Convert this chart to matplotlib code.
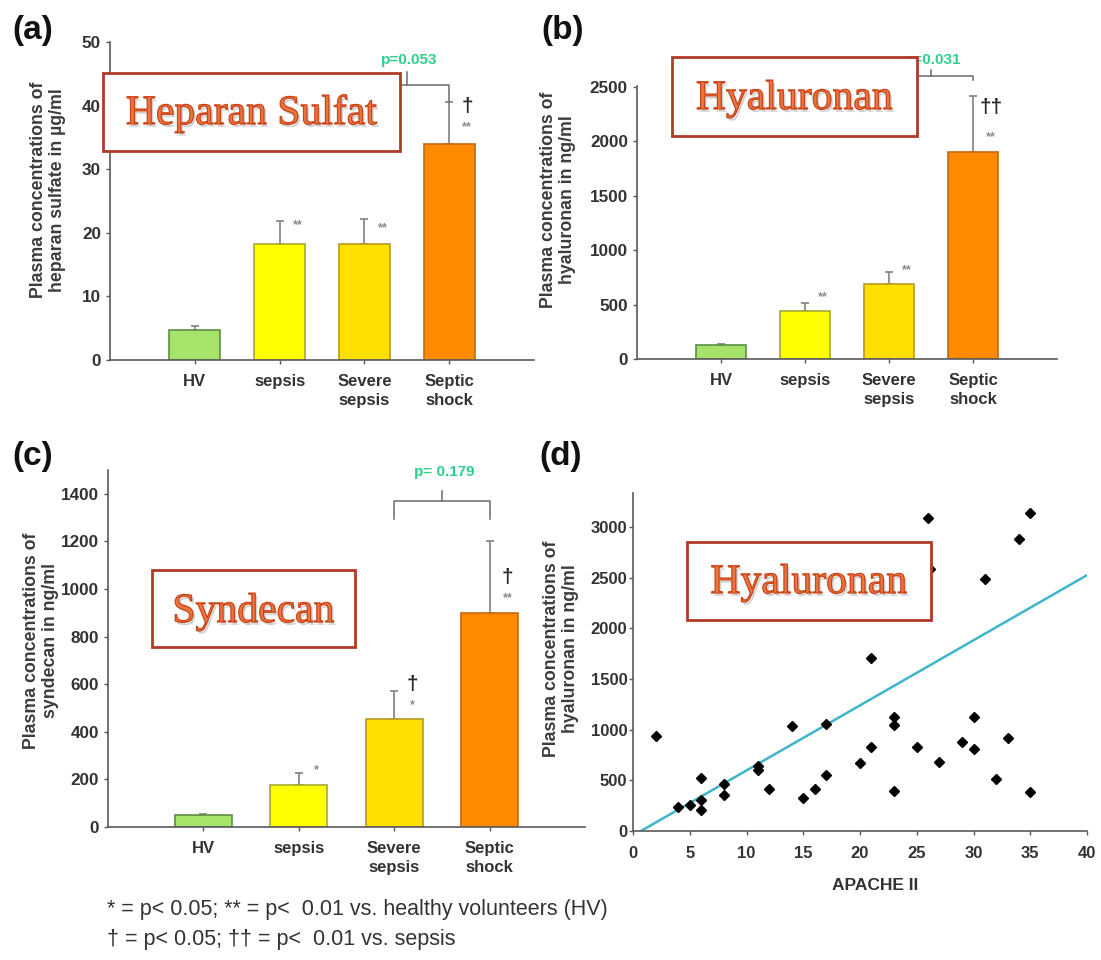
import matplotlib
matplotlib.use('Agg')
import matplotlib.pyplot as plt
import matplotlib.patheffects as pe
from matplotlib.patches import Rectangle

W, H, DPI = 1101, 960, 100

# ---------------- data ----------------
categories = ['HV', 'sepsis', 'Severe\nsepsis', 'Septic\nshock']
bar_colors = ['#a6e36b', '#ffff00', '#ffdf00', '#ff8a00']
bar_edges = ['#5f8f40', '#a8a830', '#b89a20', '#c46a10']

hs_mean = [4.7, 18.2, 18.2, 34.0]
hs_err = [0.6, 3.7, 4.0, 6.5]
hs_sig = ['', '**', '**', '**']
hs_dag = ['', '', '', '†']
hs_yticks = [0, 10, 20, 30, 40, 50]
hs_p = 'p=0.053'

ha_mean = [130, 445, 690, 1900]
ha_err = [10, 68, 108, 515]
ha_sig = ['', '**', '**', '**']
ha_dag = ['', '', '', '††']
ha_yticks = [0, 500, 1000, 1500, 2000, 2500]
ha_p = 'p=0.031'

sy_mean = [50, 175, 455, 900]
sy_err = [3, 53, 116, 300]
sy_sig = ['', '*', '*', '**']
sy_dag = ['', '', '†', '†']
sy_yticks = [0, 200, 400, 600, 800, 1000, 1200, 1400]
sy_p = 'p= 0.179'

apache = [2, 4, 5, 6, 6, 6, 8, 8, 11, 11, 12, 14, 15, 16, 17, 17, 20, 21, 21,
          23, 23, 23, 25, 26, 26.2, 27, 29, 30, 30, 31, 32, 33, 34, 35, 35]
hyal = [940, 235, 255, 520, 310, 205, 465, 355, 640, 605, 415, 1040, 330, 415,
        1060, 550, 675, 1710, 830, 1125, 1045, 390, 825, 3090, 2590, 685, 875,
        1125, 805, 2490, 515, 915, 2885, 3135, 380]
trend_x = [0.7, 40]
trend_y = [0, 2525]
sc_xticks = [0, 5, 10, 15, 20, 25, 30, 35, 40]
sc_yticks = [0, 500, 1000, 1500, 2000, 2500, 3000]

ylabels = ['Plasma concentrations of\nheparan sulfate in µg/ml',
           'Plasma concentrations of\nhyaluronan in ng/ml',
           'Plasma concentrations of\nsyndecan in ng/ml',
           'Plasma concentrations of\nhyaluronan in ng/ml']
box_titles = ['Heparan Sulfat', 'Hyaluronan', 'Syndecan', 'Hyaluronan']
panel_letters = ['(a)', '(b)', '(c)', '(d)']
sc_xlabel = 'APACHE II'
footnote = ['* = p< 0.05; ** = p<  0.01 vs. healthy volunteers (HV)',
            '† = p< 0.05; †† = p<  0.01 vs. sepsis']

# ---------------- styling ----------------
plt.rcParams['font.family'] = ['Liberation Sans', 'DejaVu Sans']
TXT = '#333333'
SPINE = '#5a5a5a'
PGREEN = '#2fd08e'

fig = plt.figure(figsize=(W / DPI, H / DPI), dpi=DPI)


def px_axes(l, t, r, b):
    return fig.add_axes([l / W, 1 - b / H, (r - l) / W, (b - t) / H])


def ftext(x, y, s, **kw):
    return fig.text(x / W, 1 - y / H, s, **kw)


def style_axes(ax):
    for s in ['top', 'right']:
        ax.spines[s].set_visible(False)
    for s in ['left', 'bottom']:
        ax.spines[s].set_color(SPINE)
        ax.spines[s].set_linewidth(1.2)
    ax.tick_params(axis='both', colors=SPINE, length=3, width=1,
                   labelcolor=TXT, labelsize=12.3)
    for lab in ax.get_xticklabels() + ax.get_yticklabels():
        lab.set_fontweight('bold')


bar_panels = [
    dict(rect=(110, 42, 534, 360), mean=hs_mean, err=hs_err, sig=hs_sig,
         dag=hs_dag, yticks=hs_yticks, ylim=(0, 50), p=hs_p,
         br=(43.3, 40.6, 45.3, 47.2),
         offs={1: [0], 2: [-5], 3: [-4, -21]}),
    dict(rect=(637, 86, 1057, 359), mean=ha_mean, err=ha_err, sig=ha_sig,
         dag=ha_dag, yticks=ha_yticks, ylim=(0, 2510), p=ha_p,
         br=(2601, 2564, 2656, 2748),
         offs={1: [10], 2: [6], 3: [-11, -37]}),
    dict(rect=(108, 470, 585, 827), mean=sy_mean, err=sy_err, sig=sy_sig,
         dag=sy_dag, yticks=sy_yticks, ylim=(0, 1500), p=sy_p,
         br=(1368, 1295, 1412, 1493),
         offs={1: [7], 2: [7, -10], 3: [-36, -53]}),
]

for P in bar_panels:
    ax = px_axes(*P['rect'])
    xs = [1, 2, 3, 4]
    ax.bar(xs, P['mean'], width=0.6, color=bar_colors, edgecolor=bar_edges,
           linewidth=1.2, zorder=2)
    ax.errorbar(xs, P['mean'], yerr=[[0] * 4, P['err']], fmt='none',
                ecolor='#808080', elinewidth=1.2, capsize=3, capthick=1.2,
                zorder=1)
    ax.set_xlim(0, 5)
    ax.set_ylim(*P['ylim'])
    ax.set_yticks(P['yticks'])
    ax.set_xticks(xs)
    ax.set_xticklabels(categories, linespacing=1.35)
    style_axes(ax)
    ax.tick_params(axis='x', pad=7, labelsize=12)
    # significance marks
    for i in range(4):
        cap = P['mean'][i] + P['err'][i]
        marks = []
        if P['dag'][i]:
            marks.append((P['dag'][i], 15, '#2a2a2a', 0))
        if P['sig'][i]:
            marks.append((P['sig'][i], 9, '#8a8a8a', -4))
        offs = P['offs'].get(i, [])
        for (txt, fs, col, corr), dy in zip(marks, offs):
            ax.annotate(txt, xy=(xs[i], cap), xytext=(18, dy + corr),
                        textcoords='offset pixels', ha='center', va='center',
                        fontsize=fs, color=col, fontweight='bold',
                        annotation_clip=False)
    # bracket between severe sepsis and septic shock
    yb, yleg, ytick, ytxt = P['br']
    ax.plot([3, 3, 4, 4], [yleg, yb, yb, yleg], color='#6a6a6a', lw=1.1,
            clip_on=False, zorder=3)
    ax.plot([3.5, 3.5], [yb, ytick], color='#6a6a6a', lw=1.1, clip_on=False,
            zorder=3)
    ax.text(3.53, ytxt, P['p'], ha='center', va='center', color=PGREEN,
            fontsize=11, fontweight='bold', clip_on=False)

# scatter panel
axd = px_axes(633, 493, 1087, 831)
axd.plot(apache, hyal, linestyle='none', marker='D', markersize=5.3,
         color='black', zorder=3, clip_on=False)
axd.plot(trend_x, trend_y, color='#3cb6c8', lw=1.8, zorder=2)
axd.set_xlim(0, 40)
axd.set_ylim(0, 3336)
axd.set_xticks(sc_xticks)
axd.set_yticks(sc_yticks)
style_axes(axd)
axd.tick_params(axis='x', pad=8, labelsize=12)
axd.tick_params(axis='y', pad=1, labelsize=12)
ftext(875, 885, sc_xlabel, ha='center', va='center', fontsize=12.5,
      fontweight='bold', color=TXT)

# y labels
for (x, y), lab in zip([(48, 190), (558, 200), (41, 641), (561, 649)], ylabels):
    ftext(x, y, lab, rotation=90, ha='center', va='center', fontsize=12.8,
          fontweight='bold', color='#3c3c3c', multialignment='center',
          linespacing=1.2)

# panel letters
for (x, y), lab in zip([(12, 31), (541, 30), (12, 457), (539, 457)],
                       panel_letters):
    ftext(x, y, lab, ha='left', va='center', fontsize=24, fontweight='bold',
          color='#111111')

# title boxes (WordArt-like text)
boxes = [(103, 73, 400, 151, 124), (672, 57, 917, 136, 109),
         (152, 570, 355, 647, 622), (687, 542, 931, 620, 593)]
title_fx = [pe.SimplePatchShadow(offset=(1.5, -2), shadow_rgbFace='#9a9a9a',
                                 alpha=0.45),
            pe.Normal(),
            pe.Stroke(linewidth=0.9, foreground='#c9461a')]
for (l, t, r, b, base), title in zip(boxes, box_titles):
    rect = Rectangle((l / W, 1 - b / H), (r - l) / W, (b - t) / H,
                     transform=fig.transFigure, facecolor='white',
                     edgecolor='#b03a28', linewidth=2, zorder=5)
    fig.add_artist(rect)
    t_ = ftext((l + r) / 2, base, title, ha='center', va='baseline',
               fontsize=30, family='Liberation Serif', color='#ee7440',
               zorder=6)
    t_.set_path_effects(title_fx)

# footnote
ftext(107, 910, footnote[0], ha='left', va='center', fontsize=15.5, color=TXT)
ftext(107, 940, footnote[1], ha='left', va='center', fontsize=15.5, color=TXT)

fig.savefig('out.png', dpi=DPI)
